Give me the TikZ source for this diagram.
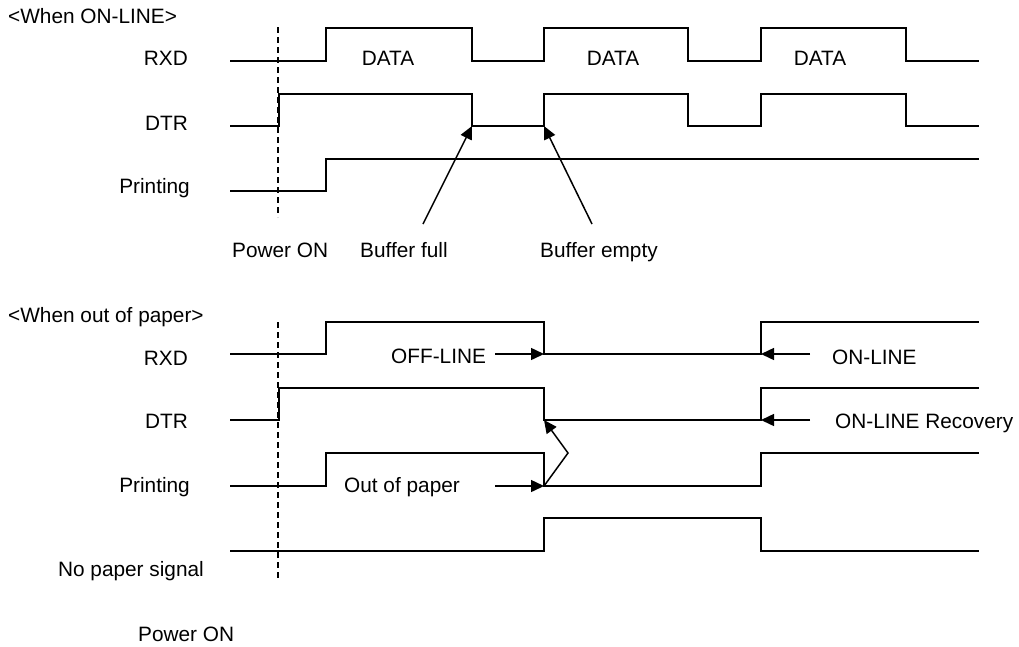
\documentclass[tikz,border=0pt]{standalone}
\usepackage{fontspec}
\setmainfont{Liberation Sans}
\usetikzlibrary{arrows.meta}
\begin{document}
\begin{tikzpicture}[x=1pt,y=-1pt,
  sig/.style={line width=1.7pt, line join=miter},
  marker/.style={line width=1.3pt, dash pattern=on 6pt off 4pt},
  pointer/.style={line width=1.5pt, -{Triangle[length=13pt,width=12pt]}},
  lbl/.style={inner sep=0pt, font=\fontsize{20.8}{24}\selectfont},
]
\useasboundingbox (0,0) rectangle (1019,646);

% ---------- On-line timing ----------
\node[lbl, anchor=base west] (t1) at (8,23) {<When ON-LINE>};
\node[lbl, anchor=base east] (rxd1) at (188,65) {RXD};
\node[lbl, anchor=base east] (dtr1) at (188,130) {DTR};
\node[lbl, anchor=base east] (prt1) at (190,193) {Printing};

\node[lbl, anchor=base] (d1) at (388,65) {DATA};
\node[lbl, anchor=base] (d2) at (613,65) {DATA};
\node[lbl, anchor=base] (d3) at (820,65) {DATA};

\draw[sig] (230,61) -| (326,28) -| (472,61) -| (544,28) -| (688,61) -| (761,28) -| (906,61) -- (979,61);
\draw[sig] (230,126) -| (279,94) -| (472,126) -| (544,94) -| (688,126) -| (761,94) -| (906,126) -- (979,126);
\draw[sig] (230,191) -| (326,159) -- (979,159);

\coordinate (pon1a) at (278,27);
\coordinate (pon1b) at (278,217);
\draw[marker] (pon1a) -- (pon1b);

\node[lbl, anchor=base west] (pon1) at (232,257) {Power ON};
\node[lbl, anchor=base west] (bfull) at (360,257) {Buffer full};
\node[lbl, anchor=base west] (bempty) at (540,257) {Buffer empty};

\coordinate (bfTail) at (423,224);
\coordinate (bfTip) at (472,126);
\coordinate (beTail) at (592,224);
\coordinate (beTip) at (544,126);
\draw[pointer] (bfTail) -- (bfTip);
\draw[pointer] (beTail) -- (beTip);

% ---------- Out-of-paper timing ----------
\node[lbl, anchor=base west] (t2) at (8,322) {<When out of paper>};
\node[lbl, anchor=base east] (rxd2) at (188,365) {RXD};
\node[lbl, anchor=base east] (dtr2) at (188,428) {DTR};
\node[lbl, anchor=base east] (prt2) at (190,492) {Printing};
\node[lbl, anchor=base east] (nps) at (204,576) {No paper signal};
\node[lbl, anchor=base west] (pon2) at (138,641) {Power ON};

\draw[sig] (230,354) -| (326,322) -| (544,354) -| (761,322) -- (979,322);
\draw[sig] (230,420) -| (279,388) -| (544,420) -| (761,388) -- (979,388);
\draw[sig] (230,486) -| (326,453) -| (544,486) -| (761,453) -- (979,453);
\draw[sig] (230,551) -| (544,518) -| (761,551) -- (979,551);

\coordinate (pon2a) at (278,322);
\coordinate (pon2b) at (278,580);
\draw[marker] (pon2a) -- (pon2b);

\node[lbl, anchor=base west] (offl) at (391,363) {OFF-LINE};
\node[lbl, anchor=base west] (oop) at (344,492) {Out of paper};
\node[lbl, anchor=base west] (onl) at (832,364) {ON-LINE};
\node[lbl, anchor=base west] (onlr) at (835,428) {ON-LINE Recovery};

\coordinate (offTail) at (495,354);
\coordinate (offTip) at (544,354);
\coordinate (oopTail) at (495,486);
\coordinate (oopTip) at (544,486);
\coordinate (bend) at (568,453);
\coordinate (recTip) at (544,420);
\coordinate (onTail) at (810,354);
\coordinate (onTip) at (761,354);
\coordinate (onrTail) at (810,420);
\coordinate (onrTip) at (761,420);

\draw[pointer] (offTail) -- (offTip);
\draw[pointer] (oopTail) -- (oopTip);
\draw[pointer] (oopTip) -- (bend) -- (recTip);
\draw[pointer] (onTail) -- (onTip);
\draw[pointer] (onrTail) -- (onrTip);
\end{tikzpicture}
\end{document}
